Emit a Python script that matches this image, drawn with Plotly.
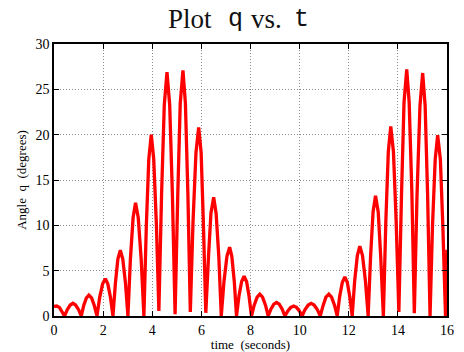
import plotly.graph_objects as go

# time (s) and |angle| (degrees)
t = [
    0.00, 0.11, 0.22, 0.32, 0.43,
    0.54, 0.66, 0.77, 0.88, 1.00, 1.11,
    1.21, 1.32, 1.42, 1.53, 1.64, 1.75,
    1.86, 1.98, 2.09, 2.19, 2.30, 2.40,
    2.50, 2.60, 2.70, 2.80, 2.91, 3.01,
    3.11, 3.22, 3.32, 3.43, 3.55, 3.66,
    3.76, 3.86, 3.96, 4.06, 4.17, 4.27,
    4.38, 4.49, 4.60, 4.71, 4.82, 4.93,
    5.04, 5.14, 5.25, 5.35, 5.45, 5.55,
    5.66, 5.78, 5.89, 5.99, 6.08, 6.18,
    6.29, 6.39, 6.50, 6.60, 6.71, 6.81,
    6.92, 7.04, 7.15, 7.24, 7.34, 7.43,
    7.53, 7.64, 7.74, 7.84, 7.94, 8.04,
    8.15, 8.27, 8.38, 8.49, 8.61, 8.72,
    8.83, 8.95, 9.06, 9.17, 9.29, 9.40,
    9.52, 9.64, 9.76, 9.87, 9.99, 10.10,
    10.22, 10.35, 10.47, 10.59, 10.72, 10.84,
    10.96, 11.07, 11.19, 11.30, 11.42, 11.53,
    11.63, 11.74, 11.84, 11.94, 12.04, 12.14,
    12.24, 12.35, 12.45, 12.56, 12.68, 12.79,
    12.89, 12.99, 13.09, 13.20, 13.30, 13.41,
    13.51, 13.61, 13.71, 13.82, 13.93, 14.04,
    14.15, 14.25, 14.36, 14.46, 14.57, 14.67,
    14.78, 14.90, 15.01, 15.11, 15.21, 15.31,
    15.41, 15.52, 15.62, 15.73, 15.83, 15.94,
    15.97, 16.00,
]
q = [
    1.07, 1.10, 0.95, 0.55, 0.00,
    0.70, 1.21, 1.40, 1.21, 0.70, 0.00,
    1.15, 1.99, 2.30, 1.99, 1.15, 0.00,
    2.05, 3.55, 4.10, 3.55, 2.05, 0.00,
    3.63, 6.28, 7.25, 6.28, 3.63, 0.00,
    6.25, 10.83, 12.50, 10.83, 6.25, 0.00,
    10.00, 17.32, 20.00, 17.32, 10.00, 0.55,
    13.45, 23.30, 26.90, 23.30, 13.45, 0.20,
    13.55, 23.47, 27.10, 23.47, 13.55, 0.45,
    10.40, 18.01, 20.80, 18.01, 10.40, 0.35,
    6.55, 11.34, 13.10, 11.34, 6.55, 0.00,
    3.80, 6.58, 7.60, 6.58, 3.80, 0.00,
    2.20, 3.81, 4.40, 3.81, 2.20, 0.00,
    1.20, 2.08, 2.40, 2.08, 1.20, 0.00,
    0.75, 1.30, 1.50, 1.30, 0.75, 0.00,
    0.55, 0.95, 1.10, 0.95, 0.55, 0.00,
    0.70, 1.21, 1.40, 1.21, 0.70, 0.00,
    1.20, 2.08, 2.40, 2.08, 1.20, 0.00,
    2.15, 3.72, 4.30, 3.72, 2.15, 0.00,
    3.85, 6.67, 7.70, 6.67, 3.85, 0.00,
    6.63, 11.47, 13.25, 11.47, 6.63, 0.00,
    10.45, 18.10, 20.90, 18.10, 10.45, 0.45,
    13.60, 23.56, 27.20, 23.56, 13.60, 0.30,
    13.40, 23.21, 26.80, 23.21, 13.40, 0.00,
    9.98, 17.28, 19.95, 17.28, 9.98, 0.00,
    3.70, 7.30,
]

x_ticks = [0, 2, 4, 6, 8, 10, 12, 14, 16]
y_ticks = [0, 5, 10, 15, 20, 25, 30]

# title pieces: text, font family, font size, left edge (px), middle (px)
title_parts = [
    ("Plot", "Liberation Serif", 27, 166, 18.6),
    ("q", "Liberation Mono", 25, 226, 19.3),
    ("vs.", "Liberation Serif", 27, 249, 18.6),
    ("t", "Liberation Mono", 25, 292, 19.3),
]

serif = "Liberation Serif"

fig = go.Figure()
fig.add_trace(go.Scatter(
    x=t, y=q, mode="lines",
    line=dict(color="#ff0000", width=3.3),
    showlegend=False,
))

axis_common = dict(
    showline=True, linecolor="black", linewidth=1.5, mirror="ticks",
    ticks="inside", ticklen=5, tickcolor="black", tickwidth=1,
    showgrid=True, gridcolor="#8c8c8c", gridwidth=1, griddash="1px,2px",
    zeroline=False, automargin=False,
    tickfont=dict(family=serif, size=14, color="black"),
)

L, R, T, B = 54, 17, 44, 36
W, H = 464, 352
pw, ph = W - L - R, H - T - B

fig.update_layout(
    width=W, height=H,
    margin=dict(l=L, r=R, t=T, b=B),
    paper_bgcolor="white", plot_bgcolor="white",
    xaxis=dict(
        range=[0, 16], tickvals=x_ticks,
        title=dict(text="time\u00a0\u00a0(seconds)", standoff=2,
                   font=dict(family=serif, size=13, color="black")),
        **axis_common,
    ),
    yaxis=dict(
        range=[0, 30], tickvals=y_ticks,
        title=dict(text="Angle\u00a0\u00a0q\u00a0\u00a0(degrees)", standoff=6,
                   font=dict(family=serif, size=13, color="black")),
        **axis_common,
    ),
)

for txt, fam, size, px, py in title_parts:
    fig.add_annotation(
        x=(px - L) / pw, y=(H - B - py) / ph, xref="paper", yref="paper",
        xanchor="left", yanchor="middle", text=txt, showarrow=False,
        font=dict(family=fam, size=size, color="#111111"),
    )

fig.write_html("out.html")
